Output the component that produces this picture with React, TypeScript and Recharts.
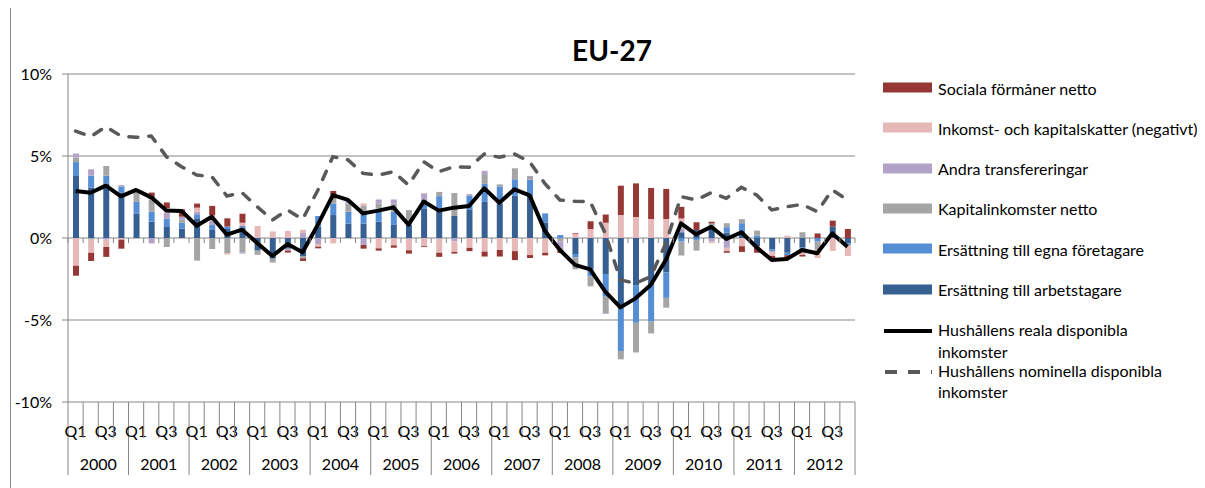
import { ComposedChart, Bar, Line, XAxis, YAxis, CartesianGrid } from "recharts";

// 2000Q1 .. 2012Q4
const years = ["2000", "2001", "2002", "2003", "2004", "2005", "2006", "2007", "2008", "2009", "2010", "2011", "2012"];
const quarters = ["Q1", "Q2", "Q3", "Q4"];

// bidrag, procentenheter
const arbetstagare = [
  3.78, 3.07, 3.33, 2.78, 1.5, 1.0, 0.67, 0.57, 1.2, 0.49, 0.55, 0.63, -0.77,
  -1.26, -0.65, -1.1, 0.7, 1.4, 0.87, 0.87, 1.0, 0.8, 0.8, 1.77, 1.6, 1.34,
  1.75, 2.2, 2.1, 2.58, 2.5, 0.95, 0, -0.98, -1.9, -2.2, -4.19, -2.87, -2.9,
  -2.1, 0.35, 0.49, 0.63, 0.33, 0.3, -0.5, -0.69, -0.9, -0.59, 0, 0.69, -0.33,
];
const egnaForetagare = [
  0.85, 0.73, 0.47, 0.35, 0.7, 0.6, 0.5, 0.37, 0.25, 0.3, 0.15, 0.1, 0,
  0, 0, 0, 0.64, 0.71, 0.73, 0.59, 0.8, 0.8, 0, 0.55, 0.95, 0,
  0.83, 1.1, 1.05, 1.0, 1.06, 0.55, 0.18, -0.2, -0.45, -1.38, -2.7, -2.3, -2.2,
  -1.55, -0.22, -0.12, 0, 0.33, 0.6, 0.15, -0.14, -0.15, -0.14, -0.22, 0, -0.1,
];
const kapitalinkomster = [
  0.28, -0.1, 0.59, 0, 0.7, 0.72, -0.55, 0.2, -1.38, -0.67, -0.93, -0.87, -0.2,
  -0.24, 0, -0.14, 0, 0.5, 0.5, 0.49, 0.3, 0.5, 0.9, 0, 0.26, 1.4,
  0, 0.6, 0.12, 0.67, 0.16, -0.05, -0.2, -0.73, -0.6, -1.0, -0.51, -1.81, -0.72,
  -0.6, -0.85, -0.65, 0.26, 0.24, 0.25, 0.3, 0, 0, 0.35, -0.5, 0, 0,
];
const andraTransfereringar = [
  0.24, 0.39, -0.1, 0.1, 0, -0.33, 0.35, 0.16, 0.15, 0.3, 0, -0.08, -0.06,
  0, -0.12, 0.3, -0.37, 0, 0.15, -0.43, 0.25, 0.25, -0.05, 0.4, -0.05, -0.2,
  0.1, 0.2, 0, 0, 0.06, 0, -0.57, 0, 0, -0.05, 0, 0, 0,
  0, 0.24, 0, -0.22, -0.6, 0, 0, 0, 0, 0, 0, 0, 0,
];
const skatter = [
  -1.69, -0.8, -0.45, -0.1, 0, 0.05, 0.3, -0.05, 0.25, 0.3, -0.08, 0.2, 0.73,
  0.4, 0.43, 0.2, -0.16, -0.33, 0, 0.16, -0.63, -0.45, -0.7, -0.5, -0.85, -0.65,
  -0.6, -0.83, -0.73, -0.8, -1.04, -0.85, 0, 0.26, 0.55, 0.93, 1.4, 1.28, 1.16,
  1.16, 0.6, 0, -0.1, -0.2, -0.5, -0.1, -0.26, 0.14, -0.3, -0.5, -0.79, -0.67,
];
const socialaFormaner = [
  -0.61, -0.5, -0.6, -0.55, 0, 0.4, 0.35, 0.45, 0.25, 0.57, 0.5, 0.55, 0,
  0, -0.12, -0.16, -0.1, 0.26, 0, -0.22, -0.14, -0.14, -0.2, -0.05, -0.25, -0.1,
  -0.2, -0.3, -0.4, -0.55, -0.18, -0.16, -0.14, 0.04, 0.47, 0.5, 1.79, 2.05, 1.89,
  1.83, 0.71, 0.47, 0.1, -0.1, -0.35, -0.3, -0.2, -0.2, -0.1, 0.28, 0.37, 0.55,
];
const realaInkomster = [
  2.87, 2.76, 3.19, 2.54, 2.93, 2.48, 1.67, 1.65, 0.75, 1.3, 0.2, 0.51, -0.3,
  -1.1, -0.37, -0.87, 0.8, 2.62, 2.32, 1.5, 1.67, 1.87, 0.81, 2.22, 1.67, 1.85,
  1.95, 3.03, 2.15, 2.97, 2.6, 0.45, -0.73, -1.64, -1.91, -3.27, -4.23, -3.68, -2.87,
  -1.34, 0.89, 0.22, 0.69, -0.06, 0.35, -0.57, -1.34, -1.28, -0.73, -0.93, 0.28, -0.53,
];
const nominellaInkomster = [
  6.52, 6.18, 6.79, 6.22, 6.14, 6.22, 4.96, 4.35, 3.84, 3.74, 2.56, 2.76, 1.91,
  1.1, 1.71, 1.14, 2.9, 4.96, 4.76, 3.94, 3.84, 4.04, 3.23, 4.65, 4.04, 4.35,
  4.31, 5.12, 4.92, 5.12, 4.65, 3.33, 2.32, 2.24, 2.22, 0.28, -2.56, -2.76, -2.36,
  -0.33, 2.52, 2.32, 2.76, 2.42, 3.09, 2.62, 1.71, 1.91, 2.05, 1.61, 2.93, 2.32,
];
const yTicks = [-10, -5, 0, 5, 10];

const C = {
  soc: "#953735",
  skatt: "#e6b9b8",
  andra: "#b3a2c7",
  kap: "#a5a5a5",
  egna: "#558ed5",
  arb: "#376092",
  axis: "#868686",
};

const data = arbetstagare.map((v, i) => ({
  label: `${years[Math.floor(i / 4)]} ${quarters[i % 4]}`,
  arb: v,
  egna: egnaForetagare[i],
  kap: kapitalinkomster[i],
  andra: andraTransfereringar[i],
  skatt: skatter[i],
  soc: socialaFormaner[i],
  real: realaInkomster[i],
  nom: nominellaInkomster[i],
}));

const W = 860;
const H = 480;
const TOP = 74;
const LEFT = 57;
const RIGHT = 16;
const XH = 78;
const PLOT_W = W - LEFT - RIGHT;
const PLOT_H = H - TOP - XH;
const BW = PLOT_W / data.length;
const FONT = "Lato, 'Open Sans', sans-serif";

const QuarterTick = (props: any) => {
  const { x, y, payload } = props;
  const i = payload.index;
  const q = i % 4;
  const xl = x - BW / 2;
  const zeroY = y - PLOT_H / 2;
  return (
    <g>
      <line x1={xl} y1={zeroY} x2={xl} y2={zeroY + 5} stroke={C.axis} />
      <line x1={xl} y1={y} x2={xl} y2={q === 0 ? y + 73 : y + 36} stroke={C.axis} />
      {i === data.length - 1 && (
        <>
          <line x1={x + BW / 2} y1={zeroY} x2={x + BW / 2} y2={zeroY + 5} stroke={C.axis} />
          <line x1={x + BW / 2} y1={y} x2={x + BW / 2} y2={y + 73} stroke={C.axis} />
        </>
      )}
      {(q === 0 || q === 2) && (
        <text x={x} y={y + 28} textAnchor="middle" dominantBaseline="central" fontSize={16} fill="#000" fontFamily={FONT}>
          {quarters[q]}
        </text>
      )}
      {q === 1 && (
        <text x={x + BW / 2} y={y + 61} textAnchor="middle" dominantBaseline="central" fontSize={16} fill="#000" fontFamily={FONT}>
          {years[Math.floor(i / 4)]}
        </text>
      )}
    </g>
  );
};

const legendBars = [
  { name: "Sociala förmåner netto", color: C.soc },
  { name: "Inkomst- och kapitalskatter (negativt)", color: C.skatt },
  { name: "Andra transfereringar", color: C.andra },
  { name: "Kapitalinkomster netto", color: C.kap },
  { name: "Ersättning till egna företagare", color: C.egna },
  { name: "Ersättning till arbetstagare", color: C.arb },
];

export default function App() {
  return (
    <div
      style={{
        position: "relative",
        width: 1186,
        height: 490,
        marginTop: -8,
        marginLeft: 2,
        borderLeft: `1px solid ${C.axis}`,
        borderRight: `1px solid ${C.axis}`,
        background: "#fff",
        fontFamily: FONT,
        color: "#000",
      }}
    >
      <div
        style={{
          position: "absolute",
          left: 601,
          top: 50,
          transform: "translate(-50%, -50%)",
          fontSize: 28,
          fontWeight: 700,
          whiteSpace: "nowrap",
        }}
      >
        EU-27
      </div>

      <div style={{ position: "absolute", left: 0, top: 0 }}>
        <ComposedChart
          width={W}
          height={H}
          data={data}
          stackOffset="sign"
          barSize={6}
          margin={{ top: TOP, right: RIGHT, left: 0, bottom: 0 }}
        >
          <CartesianGrid vertical={false} stroke={C.axis} />
          <XAxis
            dataKey="label"
            interval={0}
            height={XH}
            axisLine={false}
            tickLine={false}
            tickSize={0}
            tickMargin={0}
            tick={<QuarterTick />}
          />
          <YAxis
            width={LEFT}
            domain={[-10, 10]}
            ticks={yTicks}
            interval={0}
            tickFormatter={(v: number) => `${v}%`}
            axisLine={{ stroke: C.axis }}
            tickLine={{ stroke: C.axis }}
            tickSize={6}
            tickMargin={10}
            tick={{ fill: "#000", fontSize: 16, fontFamily: FONT }}
          />
          <Bar dataKey="arb" stackId="a" fill={C.arb} isAnimationActive={false} />
          <Bar dataKey="egna" stackId="a" fill={C.egna} isAnimationActive={false} />
          <Bar dataKey="kap" stackId="a" fill={C.kap} isAnimationActive={false} />
          <Bar dataKey="andra" stackId="a" fill={C.andra} isAnimationActive={false} />
          <Bar dataKey="skatt" stackId="a" fill={C.skatt} isAnimationActive={false} />
          <Bar dataKey="soc" stackId="a" fill={C.soc} isAnimationActive={false} />
          <Line
            type="linear"
            dataKey="nom"
            stroke="#595959"
            strokeWidth={3.5}
            strokeDasharray="9 11"
            strokeLinecap="round"
            dot={false}
            activeDot={false}
            isAnimationActive={false}
          />
          <Line
            type="linear"
            dataKey="real"
            stroke="#000"
            strokeWidth={4}
            strokeLinejoin="round"
            dot={false}
            activeDot={false}
            isAnimationActive={false}
          />
        </ComposedChart>
      </div>

      <div style={{ position: "absolute", left: 872, top: 0, fontSize: 16 }}>
        {legendBars.map((it, k) => (
          <div
            key={it.name}
            style={{ position: "absolute", top: 87.5 + k * 40.3, left: 0, display: "flex", alignItems: "center", transform: "translateY(-50%)", whiteSpace: "nowrap" }}
          >
            <span style={{ display: "inline-block", width: 49, height: 10, background: it.color, marginRight: 6 }} />
            <span>{it.name}</span>
          </div>
        ))}
        <div style={{ position: "absolute", top: 319, left: 0, display: "flex", whiteSpace: "nowrap", lineHeight: "22px" }}>
          <svg width={55} height={22}>
            <line x1={1} y1={12} x2={49} y2={12} stroke="#000" strokeWidth={4} />
          </svg>
          <span>
            Hushållens reala disponibla
            <br />
            inkomster
          </span>
        </div>
        <div style={{ position: "absolute", top: 360, left: 0, display: "flex", whiteSpace: "nowrap", lineHeight: "21px" }}>
          <svg width={55} height={22}>
            <line x1={2} y1={12} x2={49} y2={12} stroke="#595959" strokeWidth={4} strokeDasharray="12 11" strokeLinecap="butt" />
          </svg>
          <span>
            Hushållens nominella disponibla
            <br />
            inkomster
          </span>
        </div>
      </div>
    </div>
  );
}
